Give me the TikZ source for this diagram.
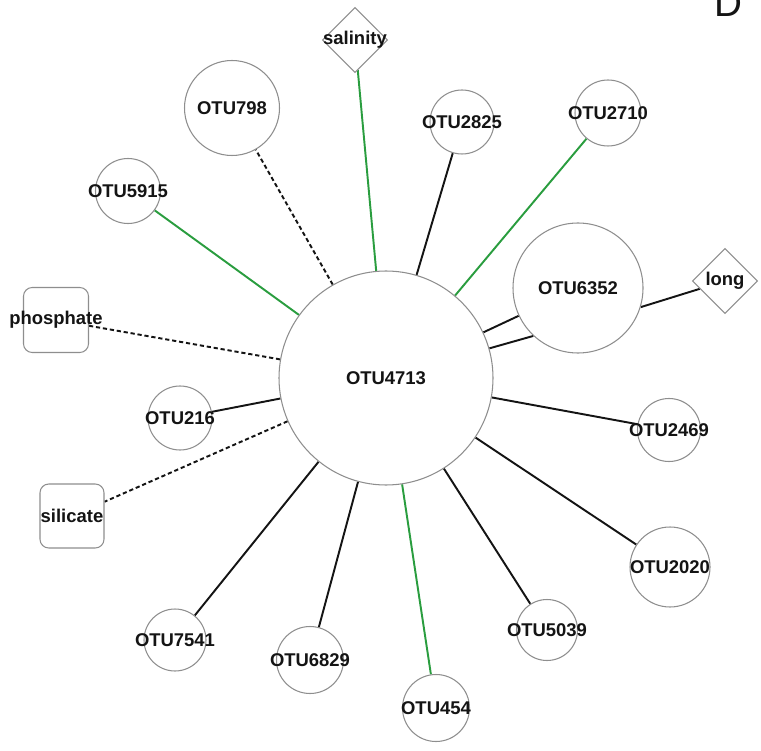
\documentclass[tikz,border=0pt]{standalone}
\usepackage{fontspec}
\setmainfont{Liberation Sans}
\usetikzlibrary{shapes.geometric,backgrounds}
\definecolor{ink}{HTML}{141414}
\definecolor{rim}{HTML}{8E8E8E}
\definecolor{leaf}{HTML}{2A9D3F}

\begin{document}
\begin{tikzpicture}[
  font=\bfseries\fontsize{10.5}{12}\selectfont, text=ink,
  every label/.style={font=\bfseries\fontsize{10.5}{12}\selectfont, inner sep=0pt, text=ink},
  otu/.style={circle, draw=rim, line width=.6pt, fill=white, inner sep=0pt, minimum size=#1},
  factor/.style={diamond, draw=rim, line width=.6pt, fill=white, inner sep=0pt, minimum size=#1},
  nutrient/.style={rectangle, rounded corners=5pt, draw=rim, line width=.6pt, fill=white,
    inner sep=0pt, minimum size=#1},
  tie/.style={draw=ink, line width=1.1pt},
  greentie/.style={tie, draw=leaf},
  dashtie/.style={tie, dash pattern=on 2.4pt off 1.6pt}
]
\useasboundingbox (0,0) rectangle (15.22,-15.02);

% Hub and its partners, placed at the reference coordinates.
\node[otu=4.28cm, label=center:OTU4713] (otu4713) at (7.72,-7.56) {};
\node[otu=2.6cm, label=center:OTU6352] (otu6352) at (11.56,-5.76) {};
\node[factor=1.3cm, label=center:long] (long) at (14.5,-5.62) {};
\node[factor=1.3cm, label=center:salinity] (salinity) at (7.1,-0.8) {};
\node[otu=1.28cm, label=center:OTU2825] (otu2825) at (9.24,-2.44) {};
\node[otu=1.32cm, label=center:OTU2710] (otu2710) at (12.16,-2.26) {};
\node[otu=1.9cm, label=center:OTU798] (otu798) at (4.64,-2.16) {};
\node[otu=1.3cm, label=center:OTU5915] (otu5915) at (2.56,-3.82) {};
\node[nutrient=1.3cm, label=center:phosphate] (phosphate) at (1.12,-6.4) {};
\node[otu=1.28cm, label=center:OTU216] (otu216) at (3.6,-8.36) {};
\node[nutrient=1.28cm, label=center:silicate] (silicate) at (1.44,-10.32) {};
\node[otu=1.24cm, label=center:OTU7541] (otu7541) at (3.5,-12.8) {};
\node[otu=1.34cm, label=center:OTU6829] (otu6829) at (6.2,-13.2) {};
\node[otu=1.34cm, label=center:OTU454] (otu454) at (8.72,-14.16) {};
\node[otu=1.22cm, label=center:OTU5039] (otu5039) at (10.94,-12.6) {};
\node[otu=1.6cm, label=center:OTU2020] (otu2020) at (13.4,-11.34) {};
\node[otu=1.26cm, label=center:OTU2469] (otu2469) at (13.38,-8.6) {};
\node[font=\fontsize{22}{22}\selectfont, anchor=base] (panel) at (14.56,-0.34) {D};

% Edges sit under the labels.
\begin{scope}[on background layer]
\foreach \n in {otu2825,otu6352,otu2469,otu216,otu2020,otu5039,otu6829,otu7541}
  \draw[tie] (otu4713) -- (\n);
\foreach \n in {salinity,otu2710,otu5915,otu454}
  \draw[greentie] (otu4713) -- (\n);
\foreach \n in {otu798,phosphate,silicate}
  \draw[dashtie] (otu4713) -- (\n);
\draw[tie] (otu4713.16) -- (otu6352.227);
\draw[tie] (otu6352.-17) -- (long);
\end{scope}
\end{tikzpicture}
\end{document}
